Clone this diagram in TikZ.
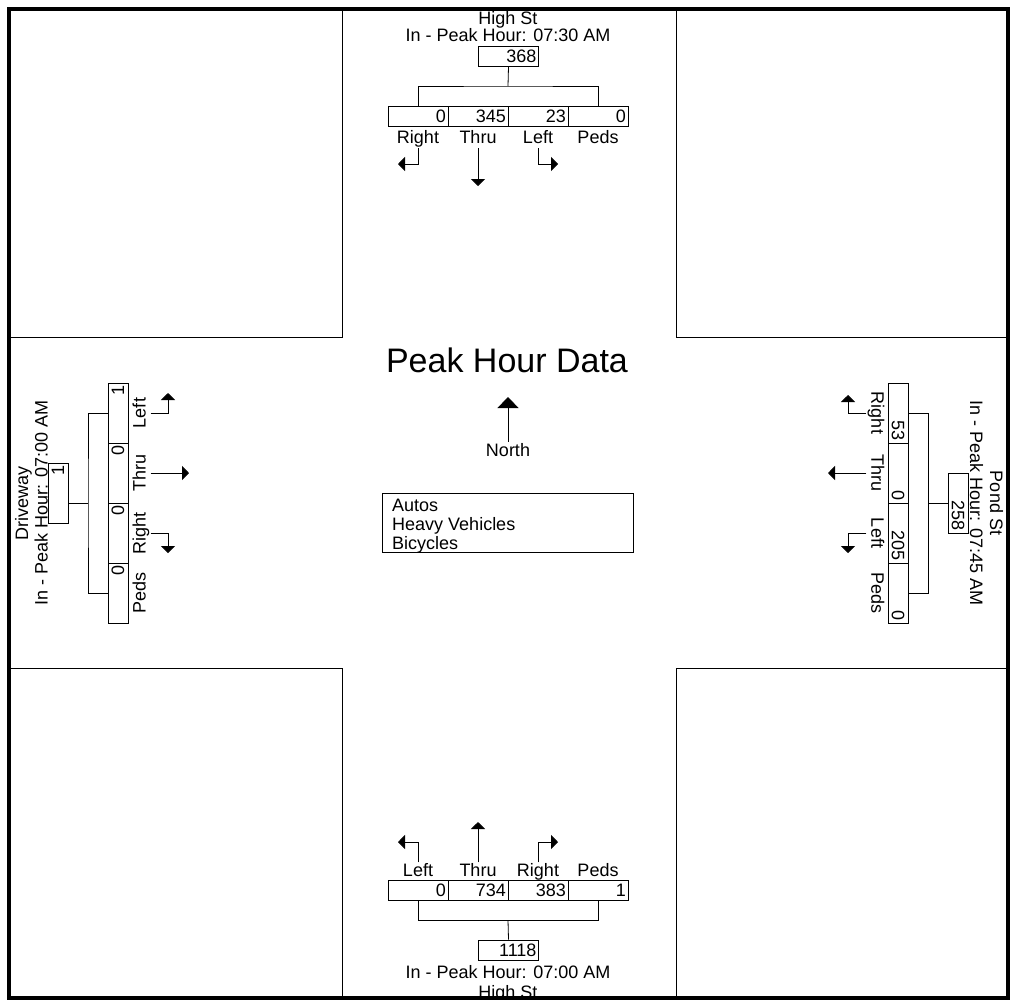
\documentclass[tikz,border=0pt]{standalone}
\usepackage{fontspec}
\setmainfont{Liberation Sans}
\usetikzlibrary{arrows.meta,calc}
\begin{document}
\begin{tikzpicture}[x=1pt,y=-1pt,
  txt/.style={font=\fontsize{18}{18}\selectfont, inner sep=1pt},
  lab/.style={txt, text height=13pt, text depth=3.8pt},
  cell/.style={draw, line width=0.8pt, minimum width=60pt, minimum height=20pt, inner sep=0pt, text width=56pt, align=right, font=\fontsize{18}{18}\selectfont},
  tot/.style={cell},
  wire/.style={line width=0.8pt},
  arr/.style={line width=0.8pt, -{Triangle[width=14pt,length=7pt]}},
  bigarr/.style={line width=0.8pt, -{Triangle[width=21pt,length=11pt]}},
  zone/.style={draw, line width=0.8pt}
]
\useasboundingbox (0,0) rectangle (1014,999);

% corner zones
\draw[zone] (9,8) rectangle (342,337);
\draw[zone] (676,8) rectangle (1008,337);
\draw[zone] (9,668) rectangle (342,997);
\draw[zone] (676,668) rectangle (1008,997);

% ---------- North approach (High St) ----------
\node[txt, anchor=base] (nName) at (508,24) {High St};
\node[txt, anchor=base] (nPeak) at (508,41) {In - Peak Hour: 07:30 AM};
\node[tot] (nTot) at (508.5,56) {368};
\node[cell] (n1) at (418,116) {0};
\node[cell] (n2) at (478,116) {345};
\node[cell] (n3) at (538,116) {23};
\node[cell] (n4) at (598,116) {0};
\coordinate (nBr) at (508,86);
\draw[wire] (nTot.south) -- (nBr);
\draw[wire] (n1.north) |- (nBr) -| (n4.north);
\node[lab] (nL1) at (418,138.5) {Right};
\node[lab] (nL2) at (478,138.5) {Thru};
\node[lab] (nL3) at (538,138.5) {Left};
\node[lab] (nL4) at (598,138.5) {Peds};
\coordinate (nA1) at (398,164);
\coordinate (nA2) at (478,186);
\coordinate (nA3) at (558,164);
\draw[arr] (nL1.south) |- (nA1);
\draw[arr] (nL2.south) -- (nA2);
\draw[arr] (nL3.south) |- (nA3);

% ---------- South approach (High St) ----------
\node[cell] (s1) at (418,890.5) {0};
\node[cell] (s2) at (478,890.5) {734};
\node[cell] (s3) at (538,890.5) {383};
\node[cell] (s4) at (598,890.5) {1};
\node[lab] (sL1) at (418,872) {Left};
\node[lab] (sL2) at (478,872) {Thru};
\node[lab] (sL3) at (538,872) {Right};
\node[lab] (sL4) at (598,872) {Peds};
\coordinate (sA1) at (398,842);
\coordinate (sA2) at (478,822);
\coordinate (sA3) at (558,842);
\draw[arr] (sL1.north) |- (sA1);
\draw[arr] (sL2.north) -- (sA2);
\draw[arr] (sL3.north) |- (sA3);
\node[tot] (sTot) at (508.5,950) {1118};
\coordinate (sBr) at (508,920);
\draw[wire] (s1.south) |- (sBr) -| (s4.south);
\draw[wire] (sTot.north) -- (sBr);
\node[txt, anchor=base] (sPeak) at (508,978) {In - Peak Hour: 07:00 AM};
\node[txt, anchor=base] (sName) at (508,998) {High St};

% ---------- West approach (Driveway) ----------
\node[cell, rotate=90] (w1) at (118,413) {1};
\node[cell, rotate=90] (w2) at (118,473) {0};
\node[cell, rotate=90] (w3) at (118,533) {0};
\node[cell, rotate=90] (w4) at (118,593) {0};
\coordinate (wBr) at (88,503);
\draw[wire] (w1.north) -| (wBr) |- (w4.north);
\node[tot, rotate=90] (wTot) at (58,493) {1};
\draw[wire] (wBr) -- (wBr -| wTot.south);
\node[lab, rotate=90] (wL1) at (141,413) {Left};
\node[lab, rotate=90] (wL2) at (141,473) {Thru};
\node[lab, rotate=90] (wL3) at (141,533) {Right};
\node[lab, rotate=90] (wL4) at (141,593) {Peds};
\coordinate (wA1) at (168,393);
\coordinate (wA2) at (189,473);
\coordinate (wA3) at (168,553);
\draw[arr] (wL1.south) -| (wA1);
\draw[arr] (wL2.south) -- (wA2);
\draw[arr] (wL3.south) -| (wA3);
\node[txt, rotate=90, anchor=base] (wPeak) at (47.5,503) {In - Peak Hour: 07:00 AM};
\node[txt, rotate=90, anchor=base] (wName) at (28,503) {Driveway};

% ---------- East approach (Pond St) ----------
\node[cell, rotate=-90] (e1) at (898,413) {53};
\node[cell, rotate=-90] (e2) at (898,473) {0};
\node[cell, rotate=-90] (e3) at (898,533) {205};
\node[cell, rotate=-90] (e4) at (898,593) {0};
\coordinate (eBr) at (928,503);
\draw[wire] (e1.north) -| (eBr) |- (e4.north);
\node[tot, rotate=-90] (eTot) at (958,503) {258};
\draw[wire] (eBr) -- (eTot.south);
\node[lab, rotate=-90] (eL1) at (876,413) {Right};
\node[lab, rotate=-90] (eL2) at (876,473) {Thru};
\node[lab, rotate=-90] (eL3) at (876,533) {Left};
\node[lab, rotate=-90] (eL4) at (876,593) {Peds};
\coordinate (eA1) at (848,395);
\coordinate (eA2) at (828,473);
\coordinate (eA3) at (848,553);
\draw[arr] (eL1.south) -| (eA1);
\draw[arr] (eL2.south) -- (eA2);
\draw[arr] (eL3.south) -| (eA3);
\node[txt, rotate=-90, anchor=base] (ePeak) at (970,503) {In - Peak Hour: 07:45 AM};
\node[txt, rotate=-90, anchor=base] (eName) at (990,503) {Pond St};

% ---------- Centre ----------
\node[font=\fontsize{34}{34}\selectfont, inner sep=0pt, anchor=base] (title) at (507,372) {Peak Hour Data};
\node[txt, anchor=base] (north) at (508,456) {North};
\coordinate (nTip) at (508,397);
\draw[bigarr] (north.north) -- (nTip);
\node[draw, line width=0.8pt, minimum width=251pt, minimum height=59pt, inner sep=0pt] (legend) at (507.5,522.5) {};
\node[txt, anchor=north west, align=left, font=\fontsize{18}{19}\selectfont] (legendtxt) at (391,497.5) {Autos\\Heavy Vehicles\\Bicycles};

% outer frame
\draw[line width=4pt] (9,9) rectangle (1007.5,997.5);
\end{tikzpicture}
\end{document}
